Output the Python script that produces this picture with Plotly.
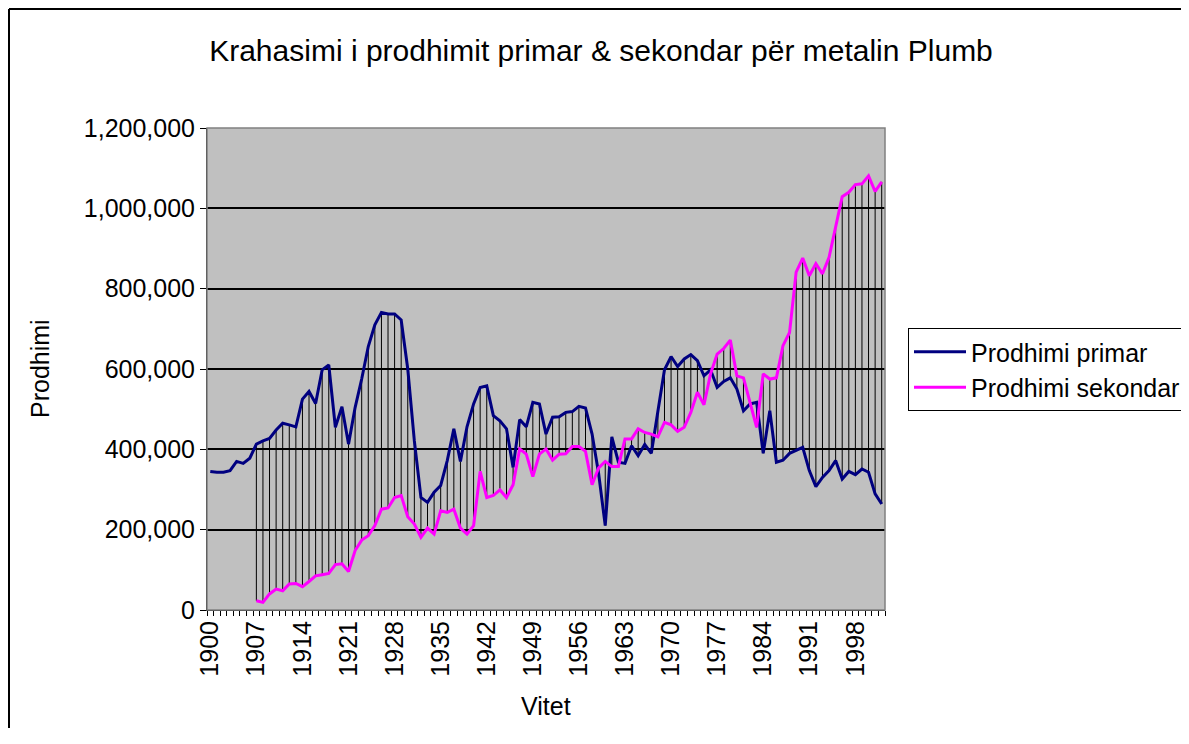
import plotly.graph_objects as go

# years 1900 - 2002
years = list(range(1900, 2003))

# primary production (tonnes)
primar = [
    345000, 343000, 343000, 347000, 370000, 365000, 378000, 413000, 421000, 427000,
    448000, 465000, 461000, 456000, 525000, 544000, 514000, 598000, 610000, 455000,
    506000, 413000, 504000, 575000, 656000, 710000, 741000, 737000, 737000, 722000,
    600000, 421000, 280000, 268000, 293000, 310000, 372000, 451000, 370000, 456000,
    513000, 554000, 558000, 484000, 471000, 451000, 355000, 474000, 456000, 517000,
    513000, 438000, 480000, 481000, 492000, 494000, 507000, 503000, 438000, 339000,
    210000, 431000, 368000, 365000, 409000, 384000, 412000, 390000, 495000, 598000,
    631000, 606000, 625000, 636000, 621000, 583000, 598000, 554000, 569000, 578000,
    550000, 496000, 513000, 517000, 390000, 496000, 368000, 373000, 390000, 398000,
    405000, 347000, 307000, 330000, 347000, 372000, 326000, 345000, 337000, 351000,
    343000, 289000, 264000,
]

# secondary production (tonnes), no data before 1907
sekondar = [
    None, None, None, None, None, None, None, 23000, 19000, 40000,
    52000, 48000, 65000, 66000, 58000, 71000, 85000, 88000, 91000, 113000,
    115000, 96000, 148000, 174000, 185000, 210000, 251000, 254000, 280000, 285000,
    232000, 214000, 181000, 204000, 189000, 247000, 243000, 251000, 204000, 189000,
    210000, 345000, 280000, 285000, 299000, 280000, 312000, 401000, 388000, 332000,
    388000, 401000, 373000, 388000, 389000, 407000, 407000, 395000, 312000, 354000,
    370000, 357000, 357000, 426000, 426000, 451000, 442000, 438000, 431000, 467000,
    461000, 445000, 455000, 492000, 542000, 511000, 588000, 637000, 651000, 672000,
    583000, 578000, 517000, 455000, 588000, 575000, 578000, 658000, 691000, 841000,
    876000, 832000, 862000, 837000, 878000, 953000, 1029000, 1040000, 1059000, 1061000,
    1081000, 1042000, 1066000,
]

tick_years = years[::7]

FONT = "Liberation Sans, Arial, sans-serif"

# page has an 8px body margin, so the figure is smaller than the window
W, H = 1173, 720
L, T = 199, 120          # plot area top-left inside the figure
PW, PH = 678, 482        # plot area size


def px(x_page):
    return (x_page - 207) / PW


def py(y_page):
    return (610 - y_page) / PH


# high-low lines between the two series
hl_x, hl_y = [], []
for yr, p, s in zip(years, primar, sekondar):
    if p is None or s is None:
        continue
    hl_x += [yr, yr, None]
    hl_y += [p, s, None]

fig = go.Figure()
fig.add_trace(go.Scatter(x=hl_x, y=hl_y, mode="lines",
                         line=dict(color="black", width=1),
                         showlegend=False, hoverinfo="skip"))
fig.add_trace(go.Scatter(x=years, y=primar, mode="lines", name="Prodhimi primar",
                         line=dict(color="#000080", width=3)))
fig.add_trace(go.Scatter(x=years, y=sekondar, mode="lines", name="Prodhimi sekondar",
                         line=dict(color="#FF00FF", width=3)))

fig.update_layout(
    width=W, height=H,
    margin=dict(l=L, r=W - L - PW, t=T, b=H - T - PH, pad=0, autoexpand=False),
    paper_bgcolor="white",
    plot_bgcolor="#C0C0C0",
    font=dict(family=FONT, size=25, color="black"),
    title=dict(text="Krahasimi i prodhimit primar & sekondar për metalin Plumb",
               x=(601 - 8) / W, xanchor="center", y=1 - (50 - 8) / H, yanchor="middle",
               font=dict(size=30, family=FONT, color="black")),
    legend=dict(xref="container", yref="container",
                x=(908 - 8) / W, xanchor="left", y=1 - (328 - 8) / H, yanchor="top",
                bordercolor="black", borderwidth=1, bgcolor="white",
                itemwidth=52, tracegroupgap=0,
                font=dict(size=25, family=FONT)),
    showlegend=True,
)

fig.update_xaxes(
    range=[1899.5, 2002.5],
    tickmode="array", tickvals=tick_years, ticktext=[str(t) for t in tick_years],
    tickangle=-90, ticks="",
    minor=dict(ticks="outside", tick0=1899.5, dtick=1, ticklen=5,
               tickcolor="black", tickwidth=1, showgrid=False),
    showgrid=False, zeroline=False,
    showline=True, linecolor="black", linewidth=1,
)
fig.update_yaxes(
    range=[0, 1200000], tickmode="linear", tick0=0, dtick=200000,
    tickformat=",d", ticks="outside", ticklen=6, tickcolor="black",
    showgrid=True, gridcolor="black", gridwidth=1.5,
    zeroline=False, showline=True, linecolor="black", linewidth=1,
)

# plot area border
fig.add_shape(type="rect", xref="paper", yref="paper", x0=0, x1=1, y0=0, y1=1,
              line=dict(color="#808080", width=1.5), layer="above")
# outer chart border: only left and top edges are inside the picture
fig.add_shape(type="line", xref="paper", yref="paper",
              x0=px(9), x1=px(9), y0=py(800), y1=py(9),
              line=dict(color="black", width=2))
fig.add_shape(type="line", xref="paper", yref="paper",
              x0=px(9), x1=px(1250), y0=py(9), y1=py(9),
              line=dict(color="black", width=2))

# axis titles
fig.add_annotation(text="Prodhimi", xref="paper", yref="paper",
                   x=px(40), y=py(369), xanchor="center", yanchor="middle",
                   textangle=-90, showarrow=False, font=dict(size=25, family=FONT))
fig.add_annotation(text="Vitet", xref="paper", yref="paper",
                   x=px(546), y=py(706), xanchor="center", yanchor="middle",
                   showarrow=False, font=dict(size=25, family=FONT))

fig.write_html("out.html")
